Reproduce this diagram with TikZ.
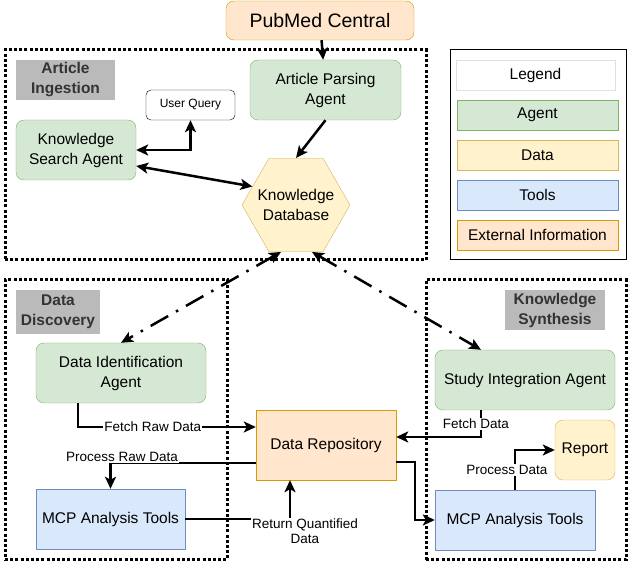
\documentclass[tikz,border=0pt]{standalone}
\usepackage{fontspec}
\setmainfont{Liberation Sans}
\usepackage{tikz}
\usetikzlibrary{arrows.meta}
\usetikzlibrary{shapes.geometric}
\usetikzlibrary{positioning}
\definecolor{agentfill}{HTML}{D5E8D4}
\definecolor{agentline}{HTML}{82B366}
\definecolor{datafill}{HTML}{FFF2CC}
\definecolor{dataline}{HTML}{D6B656}
\definecolor{toolfill}{HTML}{DAE8FC}
\definecolor{toolline}{HTML}{6C8EBF}
\definecolor{extfill}{HTML}{FFE6CC}
\definecolor{extline}{HTML}{D79B00}
\definecolor{tagfill}{HTML}{BABABA}
\definecolor{tagtext}{HTML}{333333}
\newcommand{\fbig}{\fontsize{19.5}{23}\selectfont}
\newcommand{\fmid}{\fontsize{15.5}{20}\selectfont}
\newcommand{\fsmall}{\fontsize{13.5}{15}\selectfont}
\newcommand{\ftiny}{\fontsize{12}{14}\selectfont}
\tikzstyle{arrow} = [line width=2.5pt, -{Stealth[length=12pt,width=11pt,inset=3pt]}]
\tikzstyle{darrow} = [line width=2.5pt, {Stealth[length=12pt,width=11pt,inset=3pt]}-{Stealth[length=12pt,width=11pt,inset=3pt]}]
\tikzstyle{ddarrow} = [darrow, dash pattern=on 20pt off 9pt on 2.5pt off 9pt]
\tikzstyle{zone} = [draw=black, line width=3pt, dash pattern=on 3pt off 2.2pt, inner sep=0]
\tikzstyle{tag} = [fill=tagfill, text=tagtext, font=\fmid\bfseries, align=center, inner sep=0]
\tikzstyle{agent} = [draw=agentline, fill=agentfill, rounded corners=8pt, font=\fmid, align=center, inner sep=0]
\tikzstyle{datum} = [draw=dataline, fill=datafill, font=\fmid, align=center, inner sep=0]
\tikzstyle{tool} = [draw=toolline, fill=toolfill, font=\fmid, align=center, inner sep=0]
\tikzstyle{extern} = [draw=extline, fill=extfill, font=\fmid, align=center, inner sep=0]
\tikzstyle{lbl} = [fill=white, font=\fsmall, align=center, inner sep=1pt]
\begin{document}
\begin{tikzpicture}[x=1pt, y=-1pt]
            \useasboundingbox (0,0) rectangle (633,569);
            % groups
            \node[zone, minimum width=421, minimum height=210] (ingest) at (215.5,155) {};
            \node[zone, minimum width=222, minimum height=280] (discover) at (116,420) {};
            \node[zone, minimum width=200, minimum height=280] (synth) at (526,420) {};
            \node[tag, minimum width=99, minimum height=40] (ingesttag) at (65.5,80) {Article\\Ingestion};
            \node[tag, minimum width=84, minimum height=44] (discovertag) at (58,312) {Data\\Discovery};
            \node[tag, minimum width=100, minimum height=40] (synthtag) at (555,310) {Knowledge\\Synthesis};

            % article ingestion
            \node[extern, rounded corners=8pt, font=\fbig, minimum width=188, minimum height=39] (pmc) at (320,20.5) {PubMed Central};
            \node[agent, minimum width=151, minimum height=60] (apa) at (325.5,90) {Article Parsing\\Agent};
            \node[draw=black, rounded corners=5pt, font=\ftiny, minimum width=89, minimum height=30, inner sep=0] (uq) at (190.5,105) {User Query};
            \node[agent, minimum width=120, minimum height=60] (ksa) at (76,150) {Knowledge\\Search Agent};
            \node[datum, regular polygon, regular polygon sides=6, inner sep=-16pt, minimum size=108] (kdb) at (296,205) {Knowledge\\Database};

            % data discovery
            \node[agent, minimum width=170, minimum height=60] (dia) at (121,373) {Data Identification\\Agent};
            \node[tool, minimum width=149, minimum height=60] (mcpl) at (110.5,519) {MCP Analysis Tools};
            \node[extern, minimum width=140, minimum height=70] (dr) at (326,445) {Data Repository};

            % knowledge synthesis
            \node[agent, minimum width=180, minimum height=60] (sia) at (525,380) {Study Integration Agent};
            \node[datum, rounded corners=8pt, minimum width=60, minimum height=60] (rep) at (585,450) {Report};
            \node[tool, minimum width=160, minimum height=60] (mcpr) at (515,520) {MCP Analysis Tools};

            % legend
            \node[draw=black, line width=1pt, minimum width=176, minimum height=210] (legend) at (538,155) {};
            \node[draw=black!12, font=\fmid, minimum width=159, minimum height=30, inner sep=0] (legtitle) at (535.5,75) {Legend};
            \node[agent, rounded corners=0pt, minimum width=161, minimum height=30] (legagent) at (537.5,115) {Agent};
            \node[datum, minimum width=161, minimum height=30] (legdata) at (537.5,155) {Data};
            \node[tool, minimum width=161, minimum height=30] (legtool) at (537.5,195) {Tools};
            \node[extern, minimum width=161, minimum height=30] (legext) at (537.5,235) {External Information};

            % connectors
            \draw [arrow] (pmc) -- (apa);
            \draw [arrow] (apa.south) -- (kdb.north);
            \draw [darrow] (ksa.east) -| (uq.south);
            \draw [darrow] ([yshift=-16pt]ksa.east) -- (kdb.157);
            \draw [ddarrow] ([xshift=-15pt]kdb.south) -- (dia.north);
            \draw [ddarrow] ([xshift=16pt]kdb.south) -- ([xshift=-44pt]sia.north);
            \draw [arrow] ([xshift=-43pt]dia.south) |- ([yshift=18pt]dr.west) node[pos=0.71, lbl]{Fetch Raw Data};
            \draw [arrow] ([yshift=-18pt]dr.west) -| (mcpl.north) node[pos=0.5, lbl, xshift=11.5pt, yshift=6pt]{Process Raw Data};
            \draw [arrow] (mcpl.east) -| ([xshift=-36pt]dr.south) node[pos=0.5, lbl, xshift=15pt, yshift=-12pt]{Return Quantified\\Data};
            \draw [arrow] ([xshift=-44pt]sia.south) |- ([yshift=8pt]dr.east) node[pos=0.25, lbl, xshift=-5pt]{Fetch Data};
            \draw [arrow] ([yshift=-17pt]dr.east) -- ++(19,0) |- (mcpr.west);
            \draw [arrow] (mcpr.north) |- (rep.west) node[pos=0.25, lbl, xshift=-8pt]{Process Data};
\end{tikzpicture}
\end{document}
